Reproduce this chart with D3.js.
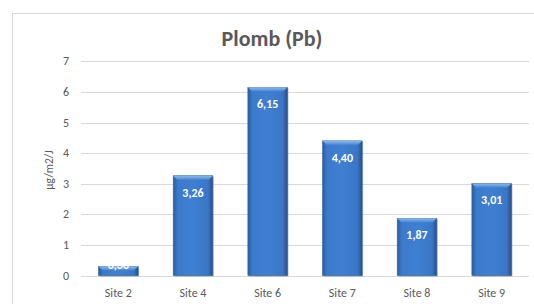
<!DOCTYPE html>
<html><head><meta charset="utf-8">
<script src="https://cdn.jsdelivr.net/npm/d3@7"></script>
<style>body{margin:0;background:#fff;font-family:Calibri,Carlito,"Liberation Sans",Arial,sans-serif;}</style>
</head><body>
<svg id="c" width="534" height="304"></svg>
<script>
const categories = ["Site 2","Site 4","Site 6","Site 7","Site 8","Site 9"];
const values = [0.30, 3.26, 6.15, 4.40, 1.87, 3.01];
const yTicks = [0,1,2,3,4,5,6,7];
const title = "Plomb (Pb)";
const yTitle = "µg/m2/J";

const svg = d3.select("#c");
const font = "Calibri, Carlito, 'Liberation Sans', Arial, sans-serif";
const grey = "#595959";

svg.append("rect").attr("x",12.5).attr("y",13.5).attr("width",540).attr("height",300)
  .attr("fill","#fff").attr("stroke","#d9d9d9");

const x = d3.scaleBand().domain(categories).range([81,529]).paddingInner(0.47).paddingOuter(0.235);
const y = d3.scaleLinear().domain([0,7]).range([275.5,61.3]);

const defs = svg.append("defs");
const g = defs.append("linearGradient").attr("id","bg").attr("x1","0").attr("x2","1").attr("y1","0").attr("y2","0");
g.append("stop").attr("offset","0").attr("stop-color","#2c5d9e");
g.append("stop").attr("offset","0.12").attr("stop-color","#3c7acb");
g.append("stop").attr("offset","0.5").attr("stop-color","#3f7fd2");
g.append("stop").attr("offset","0.88").attr("stop-color","#3a76c6");
g.append("stop").attr("offset","1").attr("stop-color","#274f87");
const tg = defs.append("linearGradient").attr("id","tg").attr("x1","0").attr("x2","0").attr("y1","0").attr("y2","1");
tg.append("stop").attr("offset","0").attr("stop-color","#8fb8ea");
tg.append("stop").attr("offset","1").attr("stop-color","#4a88d6");

// gridlines
svg.append("g").selectAll("line").data(yTicks).join("line")
  .attr("x1",81).attr("x2",529).attr("y1",d=>Math.round(y(d))+0.5).attr("y2",d=>Math.round(y(d))+0.5)
  .attr("stroke","#d9d9d9").attr("stroke-width",1);

// y tick labels
svg.append("g").selectAll("text").data(yTicks).join("text")
  .attr("x",69).attr("y",d=>y(d)+4).attr("text-anchor","end")
  .attr("font-family",font).attr("font-size",12).attr("fill",grey).text(d=>d);

// y title
svg.append("text").attr("transform","translate(53,170) rotate(-90)").attr("text-anchor","middle")
  .attr("font-family",font).attr("font-size",11.5).attr("fill",grey).text(yTitle);

// title
svg.append("text").attr("x",272).attr("y",46).attr("text-anchor","middle")
  .attr("font-family",font).attr("font-size",22).attr("font-weight","bold").attr("fill",grey).text(title);

// bars
const bars = svg.append("g").selectAll("g").data(categories).join("g");
bars.append("rect").attr("x",(d)=>x(d)+1).attr("y",(d,i)=>y(values[i])+1)
  .attr("width",x.bandwidth()).attr("height",(d,i)=>y(0)-y(values[i])).attr("fill","#1f3f6a").attr("opacity",0.35);
bars.append("rect").attr("x",d=>x(d)).attr("y",(d,i)=>y(values[i]))
  .attr("width",x.bandwidth()).attr("height",(d,i)=>y(0)-y(values[i])).attr("fill","url(#bg)")
  .attr("stroke","#2f619f").attr("stroke-width",0.6);
bars.append("path").attr("d",(d,i)=>{
  const x0=x(d), x1=x(d)+x.bandwidth(), t=y(values[i]), h=Math.min(4,(y(0)-y(values[i]))/2);
  return `M${x0},${t}L${x1},${t}L${x1-4},${t+h}L${x0+4},${t+h}Z`;
}).attr("fill","url(#tg)");

// value labels
bars.append("text").attr("x",d=>x(d)+x.bandwidth()/2)
  .attr("y",(d,i)=>{const t=y(values[i]); return (y(0)-t)>20 ? t+21 : t+3;})
  .attr("text-anchor","middle").attr("font-family",font).attr("font-size",12).attr("font-weight","bold")
  .attr("fill","#fff").text((d,i)=>values[i].toFixed(2).replace(".",","));

// x labels
svg.append("g").selectAll("text").data(categories).join("text")
  .attr("x",d=>x(d)+x.bandwidth()/2).attr("y",297).attr("text-anchor","middle")
  .attr("font-family",font).attr("font-size",12).attr("fill",grey).text(d=>d);
</script>
</body></html>
